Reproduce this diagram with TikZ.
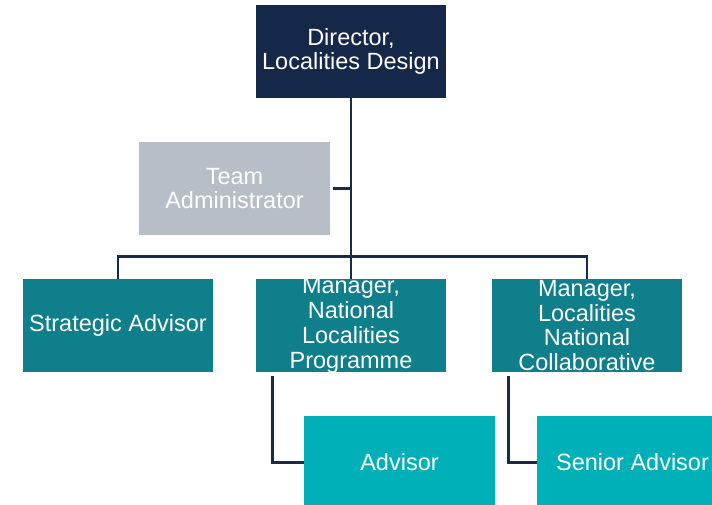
\documentclass[tikz,border=0pt]{standalone}
\usepackage{fontspec}
\setmainfont{Liberation Sans}
\definecolor{navy}{HTML}{16284A}
\definecolor{greybox}{HTML}{B8BEC8}
\definecolor{tealbox}{HTML}{0E7F8B}
\definecolor{lightteal}{HTML}{00B0B9}
\definecolor{linecol}{HTML}{1B2A47}
\begin{document}
\begin{tikzpicture}[x=1pt,y=-1pt,
  box/.style={rectangle, inner sep=0pt, minimum width=190pt, minimum height=93pt, draw=none},
  txt/.style={text=white, align=center, inner sep=0pt, font=\fontsize{23.5}{24.8}\selectfont},
  conn/.style={draw=linecol, line width=2.8pt}]
\clip (0,0) rectangle (712,505);
\fill[white] (0,0) rectangle (712,505);
% boxes
\node[box, fill=navy, label={[txt]center:Director,\\Localities Design}] (dir) at (351,51.5) {};
\node[box, fill=greybox, minimum width=191pt, label={[txt]center:Team\\Administrator}] (ta) at (234.5,188.5) {};
\node[box, fill=tealbox, label={[txt]center:Strategic Advisor}] (sa) at (118,325.5) {};
\node[box, fill=tealbox, label={[txt]center:Manager,\\National\\Localities\\Programme}] (m1) at (351,325.5) {};
\node[box, fill=tealbox, label={[txt]center:Manager,\\Localities\\National\\Collaborative}] (m2) at (587,325.5) {};
\node[box, fill=lightteal, minimum width=191pt, label={[txt]center:Advisor}] (adv) at (399.5,462.5) {};
\node[box, fill=lightteal, minimum width=191pt, label={[txt]center:Senior Advisor}] (sadv) at (632.5,462.5) {};
% connectors
\draw[conn] (dir.south) -- (m1.north);
\draw[conn] ([xshift=3pt]ta.east) -- (ta.east -| dir.south);
\draw[conn] (sa.north) -- ++(0,-22) -| (m2.north);
\draw[conn] ([xshift=17pt,yshift=-4pt]m1.south west) |- (adv.west);
\draw[conn] ([xshift=17pt,yshift=-4pt]m2.south west) |- (sadv.west);
\end{tikzpicture}
\end{document}
